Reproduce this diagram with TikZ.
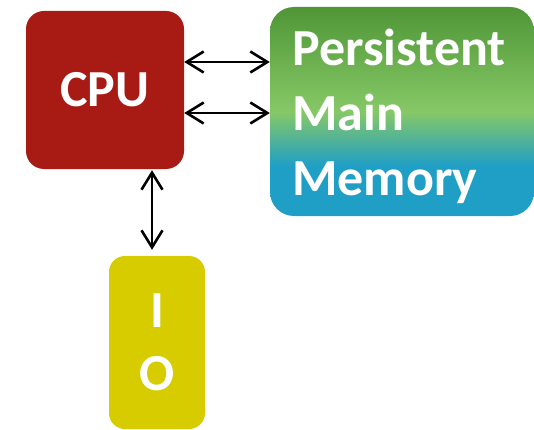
\documentclass[tikz,border=0pt]{standalone}
\usepackage{fontspec}
\setmainfont{Carlito}
\usetikzlibrary{arrows.meta}
\definecolor{cpured}{HTML}{A81A14}
\definecolor{ioyellow}{HTML}{D6CC00}
\definecolor{memdark}{HTML}{4F9637}
\definecolor{memlight}{HTML}{86C866}
\definecolor{memblue}{HTML}{209FC6}
\pgfdeclareverticalshading{memshade}{100bp}{color(0bp)=(memblue); color(25bp)=(memblue); color(37bp)=(memblue); color(50bp)=(memlight); color(75bp)=(memdark); color(100bp)=(memdark)}
\tikzset{
  box/.style={rectangle, inner sep=0pt, text=white, font=\fontsize{52}{63}\selectfont\bfseries},
  biarrow/.style={line width=2.6pt, {Straight Barb[length=17pt,width=21pt]}-{Straight Barb[length=17pt,width=21pt]}},
}
\begin{document}
\begin{tikzpicture}[x=1pt,y=1pt]
\useasboundingbox (0,0) rectangle (534,429);
\fill[white] (0,0) rectangle (534,429);
\node[box, fill=cpured, rounded corners=18pt, minimum width=158pt, minimum height=158pt] (cpu) at (105,339) {CPU};
\node[box, shading=memshade, rounded corners=24pt, minimum width=264pt, minimum height=209pt] (mem) at (402,317.5) {};
\node[box, anchor=base west, align=left, font=\fontsize{52}{65}\selectfont\bfseries] (memtext) at (292,234) {Persistent\\Main\\Memory};
\node[box, fill=ioyellow, rounded corners=16pt, minimum width=96pt, minimum height=173pt, align=center] (io) at (157,86.5) {I\\O};
\draw[biarrow] ([yshift=28pt]cpu.east) -- ([yshift=49.5pt]mem.west);
\draw[biarrow] ([yshift=-23pt]cpu.east) -- ([yshift=-1.5pt]mem.west);
\draw[biarrow, shorten <=1pt, shorten >=6pt] ([xshift=47pt]cpu.south) -- ([xshift=-5pt]io.north);
\end{tikzpicture}
\end{document}
